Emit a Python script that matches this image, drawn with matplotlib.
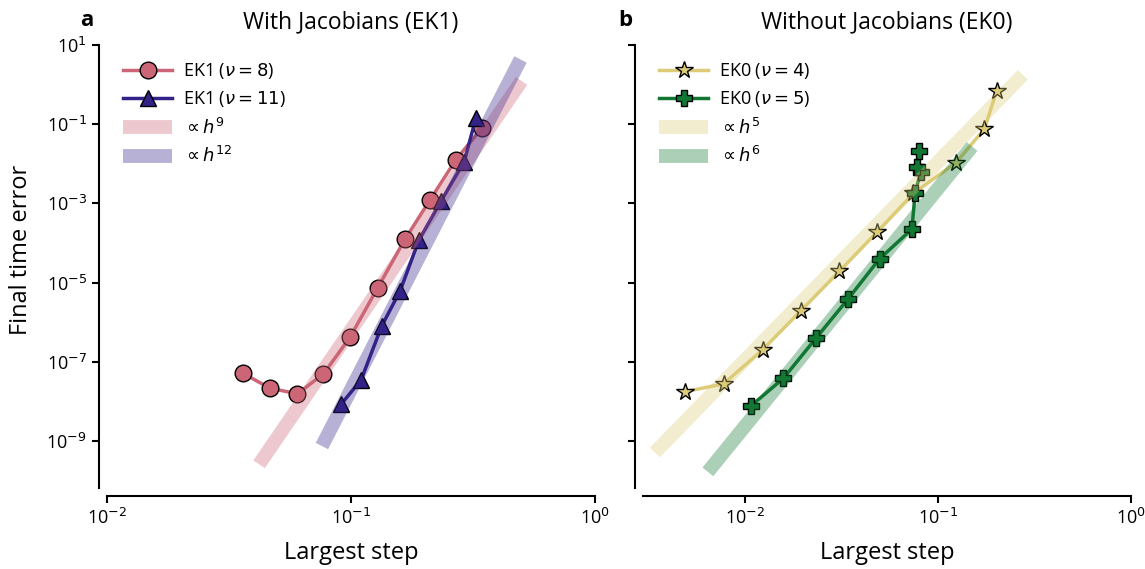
import numpy as np
import matplotlib
matplotlib.use("Agg")
import matplotlib.pyplot as plt
from matplotlib.ticker import FixedLocator, FuncFormatter, NullLocator

plt.rcParams["font.family"] = ["Open Sans", "DejaVu Sans"]

# EK1 data (panel a)
ek1_v8_steps = [0.0360, 0.0466, 0.0603, 0.0771, 0.0991, 0.1285, 0.1663, 0.211, 0.269, 0.3435]
ek1_v8_err = [10**-7.29, 10**-7.67, 10**-7.81, 10**-7.31, 10**-6.38, 10**-5.14, 10**-3.91, 10**-2.91, 10**-1.90, 10**-1.10]
ek1_v11_steps = [0.0912, 0.110, 0.1336, 0.159, 0.190, 0.2345, 0.291, 0.325]
ek1_v11_err = [10**-8.07, 10**-7.46, 10**-6.10, 10**-5.21, 10**-3.92, 10**-2.93, 10**-1.95, 10**-0.84]

# EK0 data (panel b)
ek0_v4_steps = [0.00489, 0.00772, 0.01230, 0.01945, 0.0307, 0.0481, 0.0745, 0.1239, 0.1738, 0.2013]
ek0_v4_err = [10**-7.755, 10**-7.56, 10**-6.70, 10**-5.71, 10**-4.72, 10**-3.73, 10**-2.745, 10**-1.97, 10**-1.12, 10**-0.154]
ek0_v5_steps = [0.01074, 0.01577, 0.02323, 0.0342, 0.0497, 0.0731, 0.0760, 0.0811, 0.0775, 0.0794]
ek0_v5_err = [10**-8.11, 10**-7.42, 10**-6.41, 10**-5.41, 10**-4.40, 10**-3.65, 10**-2.745, 10**-2.21, 10**-2.08, 10**-1.67]

# reference slopes: (order, constant, h range)
ref_h9 = (9, 10**2.80, [0.042, 0.50])
ref_h12 = (12, 10**4.30, [0.076, 0.495])
ref_h5 = (5, 10**3.05, [0.0034, 0.275])
ref_h6 = (6, 10**3.38, [0.0064, 0.150])

rose = "#CC6677"
indigo = "#332288"
sand = "#DDCC77"
green = "#117733"

fig = plt.figure(figsize=(11.45, 5.69), dpi=100)
ax1 = fig.add_axes([107 / 1145, 1 - 488 / 569, 488 / 1145, 443 / 569])
ax2 = fig.add_axes([643 / 1145, 1 - 488 / 569, 488 / 1145, 443 / 569])


def ref_line(ax, ref, color, label):
    p, c, hr = ref
    h = np.array(hr)
    ax.plot(h, c * h**p, color=color, lw=10, alpha=0.35,
            solid_capstyle="butt", label=label, zorder=5)


ax1.plot(ek1_v8_steps, ek1_v8_err, "-o", color=rose, lw=2.5, ms=12,
         mec="black", mew=1, label=r"EK1 ($\nu=8$)")
ax1.plot(ek1_v11_steps, ek1_v11_err, "-^", color=indigo, lw=2.5, ms=12,
         mec="black", mew=1, label=r"EK1 ($\nu=11$)")
ref_line(ax1, ref_h9, rose, r"$\propto h^{9}$")
ref_line(ax1, ref_h12, indigo, r"$\propto h^{12}$")

ax2.plot(ek0_v4_steps, ek0_v4_err, "-*", color=sand, lw=2.5, ms=13,
         mec="black", mew=1, label=r"EK0 ($\nu=4$)")
ax2.plot(ek0_v5_steps, ek0_v5_err, "-P", color=green, lw=2.5, ms=12,
         mec="black", mew=1, label=r"EK0 ($\nu=5$)")
ref_line(ax2, ref_h5, sand, r"$\propto h^{5}$")
ref_line(ax2, ref_h6, green, r"$\propto h^{6}$")

ax1.set_xlim(1e-2, 1e0)
ax2.set_xlim(10**-2.53, 1e0)

fmt = FuncFormatter(lambda v, pos: r"$\mathregular{10}^{%d}$" % round(np.log10(v)))
for ax in (ax1, ax2):
    ax.set_xscale("log")
    ax.set_yscale("log")
    ax.set_ylim(10**-10.19, 10**1)
    ax.xaxis.set_major_locator(FixedLocator([1e-2, 1e-1, 1e0]))
    ax.yaxis.set_major_locator(FixedLocator([10.0**k for k in range(1, -10, -2)]))
    ax.xaxis.set_minor_locator(NullLocator())
    ax.yaxis.set_minor_locator(NullLocator())
    ax.xaxis.set_major_formatter(fmt)
    ax.yaxis.set_major_formatter(fmt)
    ax.spines["top"].set_visible(False)
    ax.spines["right"].set_visible(False)
    ax.spines["left"].set_position(("outward", 6))
    ax.spines["bottom"].set_position(("outward", 6))
    ax.spines["left"].set_linewidth(1.5)
    ax.spines["bottom"].set_linewidth(1.5)
    ax.tick_params(length=5, width=1.5, labelsize=13, pad=3.5)
    ax.set_xlabel("Largest step", fontsize=17, labelpad=9)
    ax.legend(loc="upper left", frameon=False, fontsize=13, handlelength=2.7,
              handletextpad=0.6, borderaxespad=0.5, labelspacing=0.45)

ax2.tick_params(labelleft=False)
ax1.set_ylabel("Final time error", fontsize=17)
ax1.yaxis.set_label_coords(-0.152, 0.537)
ax1.set_title("With Jacobians (EK1)", fontsize=16.5, pad=12)
ax2.set_title("Without Jacobians (EK0)", fontsize=16.5, pad=12)
fig.text(87 / 1145, 1 - 20 / 569, "a", fontsize=16, fontweight="bold", ha="center", va="center")
fig.text(625 / 1145, 1 - 20 / 569, "b", fontsize=16, fontweight="bold", ha="center", va="center")

fig.savefig("out.png", dpi=100)
